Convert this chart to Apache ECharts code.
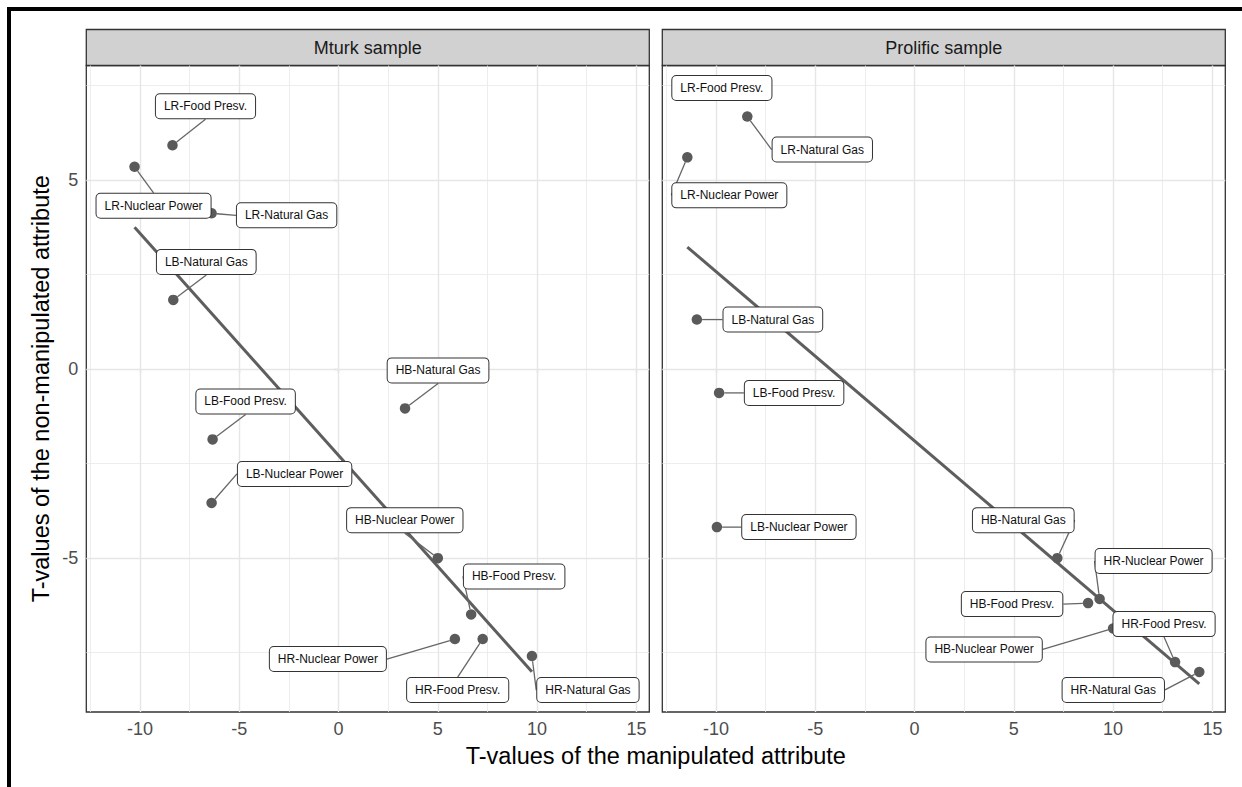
<!DOCTYPE html>
<html>
<head>
<meta charset="utf-8">
<title>T-values by sample</title>
<script src="https://cdn.jsdelivr.net/npm/echarts@6/dist/echarts.min.js"></script>
<style>
  html, body { margin: 0; padding: 0; background: #fff; }
  #chart { width: 1242px; height: 787px; }
</style>
</head>
<body>
<div id="chart"></div>
<script>
// labels, one per point (same order in both samples)
const labels = [
  'LR-Food Presv.', 'LR-Nuclear Power', 'LR-Natural Gas',
  'LB-Food Presv.', 'LB-Nuclear Power', 'LB-Natural Gas',
  'HB-Food Presv.', 'HB-Nuclear Power', 'HB-Natural Gas',
  'HR-Food Presv.', 'HR-Nuclear Power', 'HR-Natural Gas'
];
const panels = ['Mturk sample', 'Prolific sample'];

// T-values
const mturkX = [-8.36, -10.27, -6.39, -6.34, -6.39, -8.32, 6.68, 5.00, 3.35, 7.26, 5.86, 9.74];
const mturkY = [5.92, 5.35, 4.12, -1.86, -3.54, 1.83, -6.49, -5.00, -1.04, -7.14, -7.14, -7.59];
const prolificX = [-9.70, -11.44, -8.42, -9.84, -9.95, -10.96, 8.74, 10.00, 7.19, 13.12, 9.32, 14.34];
const prolificY = [7.25, 5.60, 6.68, -0.63, -4.18, 1.31, -6.19, -6.86, -5.00, -7.75, -6.08, -8.01];

// axis breaks
const xBreaks = [-10, -5, 0, 5, 10, 15];
const xMinorBreaks = [-12.5, -7.5, -2.5, 2.5, 7.5, 12.5];
const yBreaks = [-5, 0, 5];
const yMinorBreaks = [-7.5, -2.5, 2.5, 7.5];
const xRange = [-12.70, 15.65];
const yRange = [-9.07, 8.03];

// where the repelled label boxes sit, relative to their point (px)
const mturkLabelShift = [
  [33, -39], [19, 39], [75, 2],
  [33, -38], [83, -29], [33, -38],
  [43, -38], [-33, -38], [33, -38],
  [-25, 51], [-127, 20], [56, 34]
];
const prolificLabelShift = [
  [0, -7], [42, 38], [75, 33],
  [75, 0], [82, 0], [76, 0],
  [-76, 1], [-129, 21], [-34, -38],
  [-11, -38], [54, -38], [-86, 18]
];

// layout
const FONT = '"Liberation Sans", Arial, sans-serif';
const PANEL_TOP = 65.5;
const PANEL_H = 646.5;
const PANEL_W = 563;
const PANEL_LEFT = [86.3, 662.3];
const STRIP_H = 36;

function lm(xs, ys) {
  const n = xs.length;
  const mx = xs.reduce((a, b) => a + b, 0) / n;
  const my = ys.reduce((a, b) => a + b, 0) / n;
  let sxy = 0, sxx = 0;
  for (let i = 0; i < n; i++) {
    sxy += (xs[i] - mx) * (ys[i] - my);
    sxx += (xs[i] - mx) * (xs[i] - mx);
  }
  const slope = sxy / sxx;
  const lo = Math.min(...xs), hi = Math.max(...xs);
  return [[lo, my + slope * (lo - mx)], [hi, my + slope * (hi - mx)]];
}

function gridLines() {
  const major = { color: '#e6e6e6', width: 1.4, type: 'solid' };
  const minor = { color: '#e9e9e9', width: 0.8, type: 'solid' };
  return [].concat(
    xMinorBreaks.map(v => ({ xAxis: v, lineStyle: minor })),
    yMinorBreaks.map(v => ({ yAxis: v, lineStyle: minor })),
    xBreaks.map(v => ({ xAxis: v, lineStyle: major })),
    yBreaks.map(v => ({ yAxis: v, lineStyle: major }))
  );
}

const sets = [
  { x: mturkX, y: mturkY, shift: mturkLabelShift },
  { x: prolificX, y: prolificY, shift: prolificLabelShift }
];

const grids = [], xAxes = [], yAxes = [], series = [], graphics = [];

sets.forEach((s, i) => {
  grids.push({
    left: PANEL_LEFT[i], top: PANEL_TOP, width: PANEL_W, height: PANEL_H,
    show: true, backgroundColor: '#fff', borderColor: '#333', borderWidth: 1.3
  });
  xAxes.push({
    type: 'value', gridIndex: i, min: xRange[0], max: xRange[1],
    axisLine: { show: false },
    axisTick: { show: true, customValues: xBreaks, length: 4.5, lineStyle: { color: '#333', width: 1.1 } },
    axisLabel: { customValues: xBreaks, color: '#4d4d4d', fontSize: 18, margin: 8, fontFamily: FONT },
    splitLine: { show: false }
  });
  yAxes.push({
    type: 'value', gridIndex: i, min: yRange[0], max: yRange[1],
    axisLine: { show: false },
    axisTick: { show: i === 0, customValues: yBreaks, length: 4.5, lineStyle: { color: '#333', width: 1.1 } },
    axisLabel: { show: i === 0, customValues: yBreaks, color: '#4d4d4d', fontSize: 18, margin: 8, fontFamily: FONT },
    splitLine: { show: false }
  });

  // regression line (carries the panel grid lines too)
  series.push({
    type: 'line', xAxisIndex: i, yAxisIndex: i, z: 2,
    data: lm(s.x, s.y),
    showSymbol: false, symbol: 'none',
    lineStyle: { color: '#5e5e5e', width: 3 },
    markLine: {
      silent: true, z: 1, symbol: 'none', animation: false,
      label: { show: false },
      data: gridLines()
    }
  });

  series.push({
    type: 'scatter', xAxisIndex: i, yAxisIndex: i, z: 3,
    symbolSize: 10.5,
    itemStyle: { color: '#5a5a5a', opacity: 1 },
    data: s.x.map((v, k) => ({ name: labels[k], value: [v, s.y[k]] })),
    label: {
      show: true, position: 'inside', formatter: '{b}',
      fontFamily: FONT, fontSize: 12, color: '#111', lineHeight: 14,
      backgroundColor: '#fff', borderColor: '#333', borderWidth: 1,
      borderRadius: 4, padding: [5, 8]
    },
    labelLine: { show: true, length2: 0, lineStyle: { color: '#666', width: 1.3 } },
    labelLayout: function (p) {
      const o = s.shift[p.dataIndex];
      return { dx: o[0], dy: o[1] };
    },
    emphasis: { disabled: true }
  });

  // facet strip
  graphics.push({
    type: 'rect', silent: true,
    shape: { x: PANEL_LEFT[i], y: PANEL_TOP - STRIP_H, width: PANEL_W, height: STRIP_H },
    style: { fill: '#d1d1d1', stroke: '#333', lineWidth: 1.3 }
  });
  graphics.push({
    type: 'text', silent: true,
    x: PANEL_LEFT[i] + PANEL_W / 2, y: PANEL_TOP - STRIP_H / 2,
    style: { text: panels[i], fontSize: 18, fontFamily: FONT, fill: '#1a1a1a', textAlign: 'center', textVerticalAlign: 'middle' }
  });
});

// axis titles
graphics.push({
  type: 'text', silent: true,
  x: (PANEL_LEFT[0] + PANEL_LEFT[1] + PANEL_W) / 2, y: 756,
  style: { text: 'T-values of the manipulated attribute', fontSize: 23.5, fontFamily: FONT, fill: '#000', textAlign: 'center', textVerticalAlign: 'middle' }
});
graphics.push({
  type: 'text', silent: true,
  x: 40.5, y: PANEL_TOP + PANEL_H / 2, rotation: Math.PI / 2,
  style: { text: 'T-values of the non-manipulated attribute', fontSize: 23.5, fontFamily: FONT, fill: '#000', textAlign: 'center', textVerticalAlign: 'middle' }
});

// black frame along top and left edge
graphics.push({ type: 'rect', silent: true, shape: { x: 7, y: 7, width: 1235, height: 4 }, style: { fill: '#000' } });
graphics.push({ type: 'rect', silent: true, shape: { x: 7, y: 7, width: 4, height: 780 }, style: { fill: '#000' } });

const chart = echarts.init(document.getElementById('chart'), null, { renderer: 'svg' });
chart.setOption({
  animation: false,
  backgroundColor: '#fff',
  textStyle: { fontFamily: FONT },
  grid: grids,
  xAxis: xAxes,
  yAxis: yAxes,
  series: series,
  graphic: graphics
});
</script>
</body>
</html>
